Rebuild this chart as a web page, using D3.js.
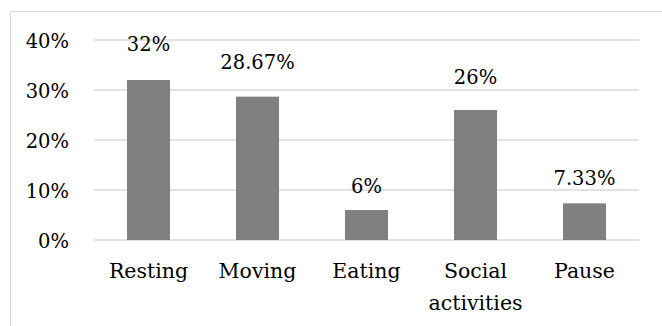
<!DOCTYPE html>
<html>
<head>
<meta charset="utf-8">
<script src="https://cdn.jsdelivr.net/npm/d3@7"></script>
<style>
  html, body { margin: 0; padding: 0; background: #fff; }
  svg { display: block; }
  text { font-family: "DejaVu Serif", serif; fill: #000; }
</style>
</head>
<body>
<svg id="chart" width="662" height="326"></svg>
<script>
const categories = ["Resting", "Moving", "Eating", "Social activities", "Pause"];
const values = [32, 28.67, 6, 26, 7.33];
const valueLabels = ["32%", "28.67%", "6%", "26%", "7.33%"];
const yTicks = [0, 10, 20, 30, 40];
const yTickLabels = ["0%", "10%", "20%", "30%", "40%"];

const FONT = '"DejaVu Serif", serif';
const svg = d3.select("#chart");
const W = 662, H = 326;
const margin = { left: 94, right: 23, top: 40, bottom: 86 };

// outer frame (cropped on the right and bottom)
svg.append("rect")
  .attr("x", 10.5).attr("y", 11.5)
  .attr("width", W + 10).attr("height", H + 10)
  .attr("fill", "none").attr("stroke", "#d9d9d9").attr("stroke-width", 1);

const x = d3.scaleBand()
  .domain(categories)
  .range([margin.left, W - margin.right])
  .paddingInner(0.605)
  .paddingOuter(0.3025);

const y = d3.scaleLinear()
  .domain([0, 40])
  .range([H - margin.bottom, margin.top]);

// gridlines
svg.append("g")
  .selectAll("line")
  .data(yTicks)
  .join("line")
  .attr("x1", margin.left)
  .attr("x2", W - margin.right)
  .attr("y1", d => y(d))
  .attr("y2", d => y(d))
  .attr("stroke", "#d9d9d9")
  .attr("stroke-width", 1.5);

// y axis labels
const yAxis = d3.axisLeft(y)
  .tickValues(yTicks)
  .tickFormat((d, i) => yTickLabels[i])
  .tickSize(0)
  .tickPadding(25);
const gy = svg.append("g")
  .attr("transform", `translate(${margin.left},0)`)
  .call(yAxis);
gy.attr("font-family", null).attr("font-size", null);
gy.select(".domain").remove();
gy.selectAll("text")
  .style("font-family", FONT)
  .style("font-size", "19.5px")
  .attr("fill", "#000")
  .attr("dy", "0.36em");

// bars
svg.append("g")
  .selectAll("rect")
  .data(values)
  .join("rect")
  .attr("x", (d, i) => x(categories[i]))
  .attr("width", x.bandwidth())
  .attr("y", d => y(d))
  .attr("height", d => y(0) - y(d))
  .attr("fill", "#808080");

// value labels
svg.append("g")
  .selectAll("text")
  .data(values)
  .join("text")
  .attr("x", (d, i) => x(categories[i]) + x.bandwidth() / 2)
  .attr("y", d => y(d) - (14.7 + 0.44 * d))
  .attr("text-anchor", "middle")
  .style("font-family", FONT)
  .style("font-size", "19.5px")
  .text((d, i) => valueLabels[i]);

// x axis labels (wrapped)
const xg = svg.append("g");
categories.forEach(c => {
  const words = c.split(" ");
  const t = xg.append("text")
    .attr("x", x(c) + x.bandwidth() / 2)
    .attr("y", y(0) + 38)
    .attr("text-anchor", "middle")
    .style("font-family", FONT)
    .style("font-size", "20.5px");
  words.forEach((w, i) => {
    t.append("tspan")
      .attr("x", x(c) + x.bandwidth() / 2)
      .attr("dy", i === 0 ? 0 : 32)
      .text(w);
  });
});
</script>
</body>
</html>
